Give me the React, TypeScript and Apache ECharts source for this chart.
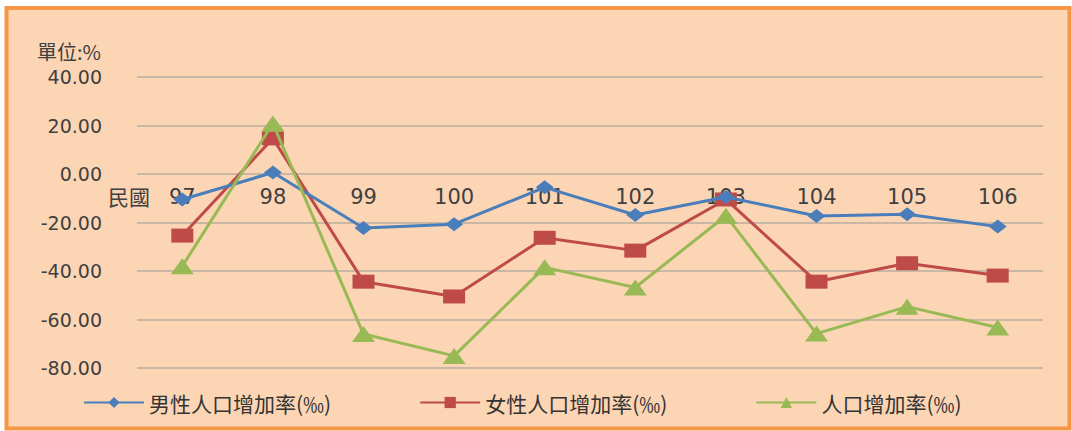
import React, { useEffect, useRef } from "react";
import * as echarts from "echarts";

const categories = ["97", "98", "99", "100", "101", "102", "103", "104", "105", "106"];
const maleRate = [-10.5, 0.6, -22.3, -20.7, -5.5, -16.9, -9.5, -17.3, -16.6, -21.7];
const femaleRate = [-25.4, 14.7, -44.4, -50.5, -26.3, -31.6, -10.5, -44.4, -36.8, -41.9];
const totalRate = [-38.0, 20.8, -66.0, -75.0, -38.5, -46.8, -17.2, -65.8, -54.7, -63.3];
const seriesNames = ["男性人口增加率(‰)", "女性人口增加率(‰)", "人口增加率(‰)"];
const yTicks = { min: -80, max: 40, interval: 20 };

export default function App() {
  const ref = useRef<HTMLDivElement>(null);
  useEffect(() => {
    if (!ref.current) return;
    const chart = echarts.init(ref.current, undefined, { renderer: "svg" });
    const labelColor = "#404040";
    const gridColor = "#B8ACA0";
    chart.setOption({
      animation: false,
      backgroundColor: "#ffffff",
      graphic: [
        {
          type: "rect",
          z: -100,
          shape: { x: 6.5, y: 8, width: 1063, height: 420.5 },
          style: { fill: "#FCD5B5", stroke: "#F79646", lineWidth: 4 },
        },
        {
          type: "text",
          left: 37,
          top: 41,
          style: {
            text: "單位:%",
            fontSize: 20,
            fill: labelColor,
            fontFamily: "Noto Sans CJK TC",
          },
        },
        {
          type: "text",
          left: 108,
          top: 185,
          style: {
            text: "民國",
            fontSize: 21,
            fill: labelColor,
            fontFamily: "Noto Sans CJK TC",
          },
        },
      ],
      grid: { left: 137, right: 29, top: 77, bottom: 63, containLabel: false },
      legend: {
        left: 78,
        top: 387,
        itemWidth: 60,
        itemHeight: 14,
        itemGap: 88,
        data: seriesNames,
        textStyle: {
          fontSize: 21,
          color: "#333333",
          fontFamily: "Noto Sans CJK TC",
        },
      },
      xAxis: {
        type: "category",
        data: categories,
        boundaryGap: true,
        position: "bottom",
        offset: -194,
        axisLine: { show: false, onZero: false },
        axisTick: { show: false },
        axisLabel: {
          margin: 12,
          fontSize: 21,
          color: labelColor,
          fontFamily: "DejaVu Sans",
        },
        splitLine: { show: false },
      },
      yAxis: {
        type: "value",
        min: yTicks.min,
        max: yTicks.max,
        interval: yTicks.interval,
        axisLine: { show: false },
        axisTick: { show: false },
        axisLabel: {
          margin: 35,
          fontSize: 19,
          color: labelColor,
          fontFamily: "DejaVu Sans",
          formatter: (v: number) => v.toFixed(2),
        },
        splitLine: { lineStyle: { color: gridColor, width: 1.5 } },
      },
      series: [
        {
          name: seriesNames[0],
          type: "line",
          data: maleRate,
          symbol: "diamond",
          symbolSize: [18, 14],
          lineStyle: { color: "#4A7EBB", width: 3 },
          itemStyle: { color: "#4A7EBB" },
          z: 4,
        },
        {
          name: seriesNames[1],
          type: "line",
          data: femaleRate,
          symbol: "rect",
          symbolSize: [22, 14],
          lineStyle: { color: "#BE4B48", width: 3 },
          itemStyle: { color: "#BE4B48" },
          z: 3,
        },
        {
          name: seriesNames[2],
          type: "line",
          data: totalRate,
          symbol: "triangle",
          symbolSize: [23, 16],
          lineStyle: { color: "#98B954", width: 3 },
          itemStyle: { color: "#98B954" },
          z: 5,
        },
      ],
    });
    return () => chart.dispose();
  }, []);
  return (
    <div
      ref={ref}
      style={{ position: "fixed", left: 0, top: 0, width: 1072, height: 431 }}
    />
  );
}
